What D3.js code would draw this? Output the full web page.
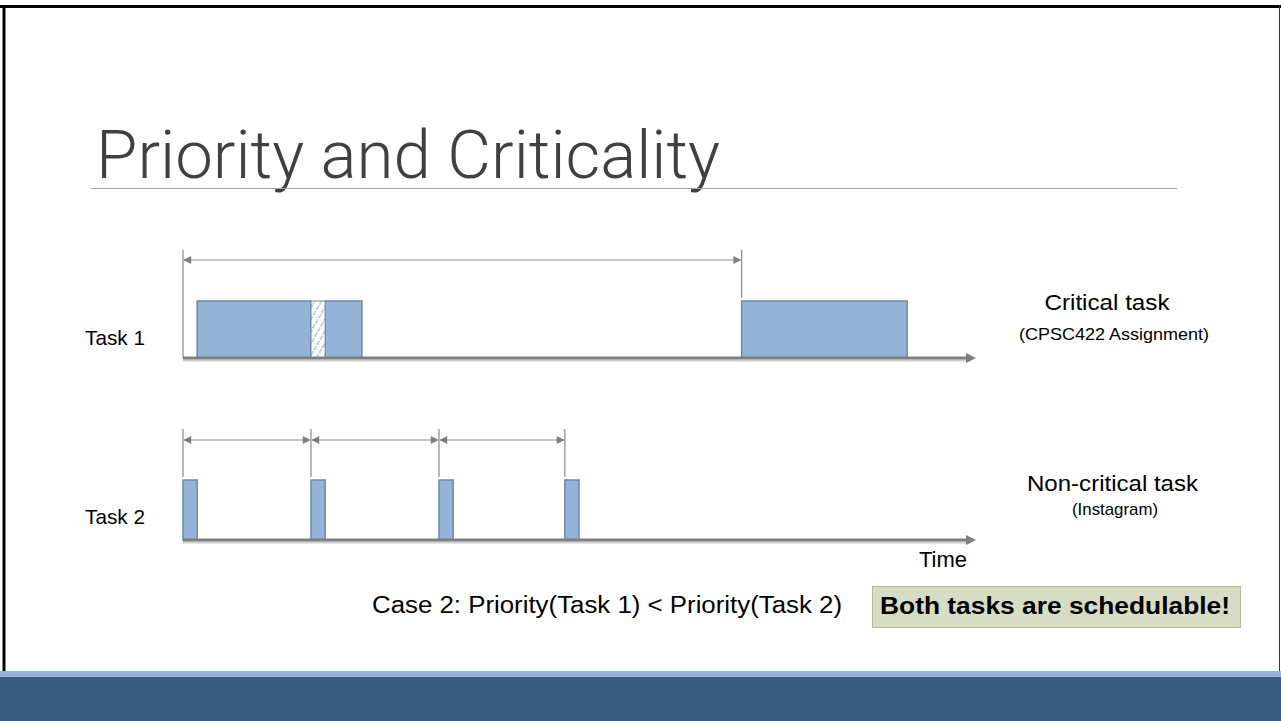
<!DOCTYPE html>
<head>
  <meta charset="utf-8">
  <title>Priority and Criticality</title>
  <style>
    body {margin: 0; background: #fff;}
    svg {display: block; font-family: "Liberation Sans", Helvetica, Arial, sans-serif;}
    .axis-line {stroke: #7f7f7f; stroke-width: 3; fill: none;}
    .axis-shadow {stroke: #cfcfcf; stroke-width: 2; fill: none;}
    .span {stroke: #8a8a8a; stroke-width: 1; fill: none;}
    .tick-mark {stroke: #8a8a8a; stroke-width: 1.2;}
    .job {fill: #95b3d7; stroke: #6a89ab; stroke-width: 1.5;}
  </style>
</head>
<body>
  <svg width="1281" height="721"></svg>
  <script src="https://cdn.jsdelivr.net/npm/d3@7"></script>
  <script>
    // time values (arbitrary units)
    var timeDomain = [0, 56];

    // task 1: executed pieces, the preempted slot (hatched), releases
    var task1Runs = [[1.0, 9.05], [10.05, 12.65], [39.5, 51.2]];
    var task1Preempt = [[9.05, 10.05]];
    var task1Periods = [[0, 39.5]];

    // task 2: short jobs at each release
    var task2Runs = [[0, 1.0], [9.05, 10.05], [18.1, 19.1], [27.0, 28.0]];
    var task2Periods = [[0, 9.05], [9.05, 18.1], [18.1, 27.0]];

    var taskNames = ["Task 1", "Task 2"];
    var taskKinds = ["Critical task", "Non-critical task"];
    var taskNotes = ["(CPSC422 Assignment)", "(Instagram)"];

    var svg = d3.select("svg"),
        W = +svg.attr("width"),
        H = +svg.attr("height");

    var x = d3.scaleLinear().domain(timeDomain).range([183, 975]);

    var defs = svg.append("defs");

    defs.append("marker")
        .attr("id", "head")
        .attr("viewBox", "0 0 10 10")
        .attr("refX", 9).attr("refY", 5)
        .attr("markerWidth", 9).attr("markerHeight", 8)
        .attr("markerUnits", "userSpaceOnUse")
        .attr("orient", "auto-start-reverse")
      .append("path")
        .attr("d", "M0,0 L10,5 L0,10 z")
        .attr("fill", "#7f7f7f");

    defs.append("marker")
        .attr("id", "bighead")
        .attr("viewBox", "0 0 10 10")
        .attr("refX", 5).attr("refY", 5)
        .attr("markerWidth", 12).attr("markerHeight", 10)
        .attr("markerUnits", "userSpaceOnUse")
        .attr("orient", "auto")
      .append("path")
        .attr("d", "M0,0 L10,5 L0,10 z")
        .attr("fill", "#7f7f7f");

    var hatch = defs.append("pattern")
        .attr("id", "hatch")
        .attr("patternUnits", "userSpaceOnUse")
        .attr("width", 6).attr("height", 6)
        .attr("patternTransform", "rotate(30)");
    hatch.append("rect").attr("width", 6).attr("height", 6).attr("fill", "#fff");
    hatch.append("line")
        .attr("x1", 3).attr("y1", 0).attr("x2", 3).attr("y2", 6)
        .attr("stroke", "#a9c1de").attr("stroke-width", 1.8)
        .attr("stroke-dasharray", "2,1.5");

    // slide frame
    svg.append("line").attr("x1", 0).attr("x2", W).attr("y1", 6.5).attr("y2", 6.5)
        .attr("stroke", "#000").attr("stroke-width", 3);
    svg.append("line").attr("x1", 4).attr("x2", 4).attr("y1", 5).attr("y2", 672)
        .attr("stroke", "#000").attr("stroke-width", 3);
    svg.append("line").attr("x1", 1279.5).attr("x2", 1279.5).attr("y1", 5).attr("y2", H)
        .attr("stroke", "#333").attr("stroke-width", 1);

    // title
    svg.append("text")
        .attr("x", 96).attr("y", 178)
        .attr("font-family", "Roboto, 'Liberation Sans', sans-serif")
        .attr("font-weight", 300)
        .attr("font-size", 67)
        .attr("fill", "#404040")
        .attr("textLength", 624)
        .attr("lengthAdjust", "spacingAndGlyphs")
        .text("Priority and Criticality");
    svg.append("line")
        .attr("x1", 91).attr("x2", 1177).attr("y1", 188.5).attr("y2", 188.5)
        .attr("stroke", "#a6a6a6").attr("stroke-width", 1.2);

    var rows = [
      {axisY: 358, spanY: 260, tickTop: 250, barTop: 301, runs: task1Runs, periods: task1Periods, labelY: 345},
      {axisY: 540, spanY: 440, tickTop: 429, barTop: 480, runs: task2Runs, periods: task2Periods, labelY: 524}
    ];

    rows.forEach(function(r, i) {
      var g = svg.append("g");

      // release ticks
      var releases = [r.periods[0][0]].concat(r.periods.map(function(p) { return p[1]; }));
      g.selectAll(".tick-mark")
          .data(releases)
        .enter().append("line")
          .attr("class", "tick-mark")
          .attr("x1", function(d) { return x(d); })
          .attr("x2", function(d) { return x(d); })
          .attr("y1", r.tickTop)
          .attr("y2", function(d, j) { return (i === 0 && j === 0) ? r.axisY : r.barTop - 3; });

      // period spans
      g.selectAll(".span")
          .data(r.periods)
        .enter().append("line")
          .attr("class", "span")
          .attr("x1", function(d) { return x(d[0]) + 1; })
          .attr("x2", function(d) { return x(d[1]) - 1; })
          .attr("y1", r.spanY).attr("y2", r.spanY)
          .attr("marker-start", "url(#head)")
          .attr("marker-end", "url(#head)");

      // jobs
      g.selectAll(".job")
          .data(r.runs)
        .enter().append("rect")
          .attr("class", "job")
          .attr("x", function(d) { return x(d[0]); })
          .attr("width", function(d) { return x(d[1]) - x(d[0]); })
          .attr("y", r.barTop)
          .attr("height", r.axisY - r.barTop);

      if (i === 0) {
        g.selectAll(".preempt")
            .data(task1Preempt)
          .enter().append("rect")
            .attr("x", function(d) { return x(d[0]); })
            .attr("width", function(d) { return x(d[1]) - x(d[0]); })
            .attr("y", r.barTop)
            .attr("height", r.axisY - r.barTop)
            .attr("fill", "url(#hatch)")
            .attr("stroke", "#6a89ab").attr("stroke-width", 1);
      }

      // time axis
      g.append("line")
          .attr("class", "axis-shadow")
          .attr("x1", x(0)).attr("x2", x(timeDomain[1]) - 4)
          .attr("y1", r.axisY + 2.5).attr("y2", r.axisY + 2.5);
      g.append("line")
          .attr("class", "axis-line")
          .attr("x1", x(0)).attr("x2", x(timeDomain[1]) - 4)
          .attr("y1", r.axisY).attr("y2", r.axisY)
          .attr("marker-end", "url(#bighead)");

      // labels
      svg.append("text")
          .attr("x", 85).attr("y", r.labelY)
          .attr("font-size", 21).attr("fill", "#000")
          .attr("textLength", 60).attr("lengthAdjust", "spacingAndGlyphs")
          .text(taskNames[i]);
    });

    function label(t, cx, y, size, len, bold) {
      return svg.append("text")
          .attr("x", cx - len / 2).attr("y", y)
          .attr("font-size", size)
          .attr("font-weight", bold ? "bold" : "normal")
          .attr("fill", "#000")
          .attr("textLength", len).attr("lengthAdjust", "spacingAndGlyphs")
          .text(t);
    }

    label(taskKinds[0], 1107, 310, 22, 125);
    label(taskNotes[0], 1114, 340, 17, 190);
    label(taskKinds[1], 1112.5, 491, 22, 171);
    label(taskNotes[1], 1115, 515, 17, 86);

    label("Time", 943, 567, 22, 48);
    label("Case 2: Priority(Task 1) < Priority(Task 2)", 607, 613, 23, 470);

    svg.append("rect")
        .attr("x", 872.5).attr("y", 586.5).attr("width", 368).attr("height", 41)
        .attr("fill", "#d7dcc5").attr("stroke", "#b0bb90").attr("stroke-width", 1);
    label("Both tasks are schedulable!", 1055, 614, 23, 350, true);

    // footer band
    svg.append("rect").attr("x", 0).attr("y", 671).attr("width", W).attr("height", 7).attr("fill", "#95b3d7");
    svg.append("rect").attr("x", 0).attr("y", 677).attr("width", W).attr("height", H - 677).attr("fill", "#375e7e");
  </script>
</body>
